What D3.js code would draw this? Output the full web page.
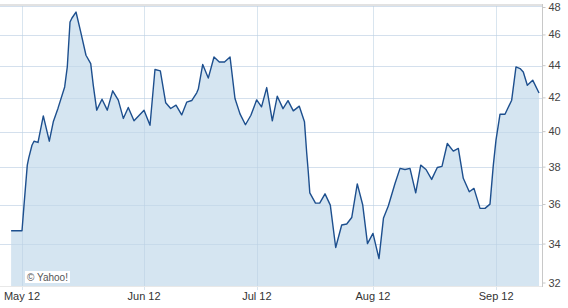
<!DOCTYPE html>
<html>
<head>
<meta charset="utf-8">
<script src="https://cdn.jsdelivr.net/npm/d3@7"></script>
<style>
  html, body { margin: 0; padding: 0; background: #fff; }
  svg { display: block; }
  text { font-family: "Liberation Sans", Arial, sans-serif; }
</style>
</head>
<body>
<svg id="chart" width="568" height="308"></svg>
<script>
// trading-day position (0 = first session shown) and closing price
const sessions = [0, 2.0, 2.37, 2.97, 3.23, 3.83, 4.2, 4.94, 5.91, 7.01, 7.74, 8.61, 9.83, 10.31, 10.81, 11.17, 11.91, 12.77, 13.74, 14.61, 15.08, 15.71, 16.68, 17.65, 18.64, 19.67, 20.59, 21.5, 22.55, 24.39, 25.49, 26.4, 27.38, 28.37, 29.28, 30.26, 31.3, 32.22, 33.14, 34.06, 34.35, 35.16, 36.18, 37.23, 38.2, 39.16, 40.17, 41.08, 42.0, 43.0, 44.0, 45.06, 45.95, 46.9, 47.93, 48.84, 49.89, 50.81, 51.78, 52.88, 53.83, 54.24, 54.53, 54.81, 55.85, 56.62, 57.6, 58.57, 59.56, 60.66, 61.58, 62.5, 63.52, 64.51, 65.39, 66.4, 67.5, 68.33, 69.21, 70.44, 71.36, 72.28, 73.19, 74.24, 75.16, 76.13, 77.17, 78.2, 79.06, 80.04, 81.14, 82.06, 82.97, 84.07, 84.93, 86.04, 86.95, 87.87, 88.48, 88.97, 89.71, 90.62, 91.85, 92.64, 93.39, 93.98, 94.72, 95.71, 96.87];
const prices = [34.66, 34.66, 35.97, 38.11, 38.50, 39.22, 39.45, 39.38, 40.92, 39.45, 40.57, 41.38, 42.67, 43.92, 46.87, 47.14, 47.55, 46.20, 44.67, 44.13, 42.77, 41.26, 41.92, 41.26, 42.43, 41.86, 40.77, 41.42, 40.63, 41.26, 40.37, 43.76, 43.67, 41.70, 41.36, 41.56, 40.98, 41.74, 41.84, 42.31, 42.54, 44.08, 43.22, 44.56, 44.24, 44.24, 44.56, 41.96, 41.04, 40.40, 40.96, 41.88, 41.46, 42.63, 40.63, 42.10, 41.35, 41.83, 41.22, 41.50, 40.57, 38.78, 37.73, 36.61, 36.07, 36.07, 36.56, 35.97, 33.83, 34.95, 35.00, 35.33, 37.09, 35.99, 34.02, 34.53, 33.29, 35.31, 35.92, 37.11, 37.93, 37.87, 37.93, 36.61, 38.11, 37.87, 37.33, 37.98, 38.04, 39.32, 38.89, 39.04, 37.39, 36.67, 36.85, 35.80, 35.80, 36.02, 38.11, 39.51, 41.02, 41.02, 41.86, 43.92, 43.82, 43.60, 42.77, 43.09, 42.30];

const monthLabels = ["May 12", "Jun 12", "Jul 12", "Aug 12", "Sep 12"];
const monthSessions = [2, 24.4, 45.1, 66.4, 89];
const yTicks = [32, 34, 36, 38, 40, 42, 44, 46, 48];

const svg = d3.select("#chart");
const x = d3.scaleLinear().domain([0, 97]).range([11.1, 539.75]);
const y = d3.scaleLog().domain([32, 48]).range([286, 5.5]);

const data = sessions.map((s, i) => ({ s, p: prices[i] }));

// horizontal grid (under fill)
svg.append("g").selectAll("line").data(yTicks).join("line")
  .attr("x1", 0).attr("x2", 542)
  .attr("y1", d => Math.round(y(d)) + 0.5).attr("y2", d => Math.round(y(d)) + 0.5)
  .attr("stroke", "#e6edf4").attr("stroke-width", 1);

// area
const area = d3.area().x(d => x(d.s)).y0(y(32)).y1(d => y(d.p));
svg.append("path").datum(data).attr("d", area).attr("fill", "#d5e5f1");

// grid over fill (faint)
svg.append("g").selectAll("line").data(yTicks).join("line")
  .attr("x1", 0).attr("x2", 542)
  .attr("y1", d => Math.round(y(d)) + 0.5).attr("y2", d => Math.round(y(d)) + 0.5)
  .attr("stroke", "#9fbcd6").attr("stroke-opacity", 0.25);
svg.append("g").selectAll("line").data(monthSessions).join("line")
  .attr("x1", d => Math.round(x(d)) + 0.5).attr("x2", d => Math.round(x(d)) + 0.5)
  .attr("y1", 6).attr("y2", 290)
  .attr("stroke", "#b9cfe2").attr("stroke-opacity", 0.55);

// line
const line = d3.line().x(d => x(d.s)).y(d => y(d.p));
svg.append("path").datum(data).attr("d", line)
  .attr("fill", "none").attr("stroke", "#1d4f8e").attr("stroke-width", 1.4)
  .attr("stroke-linejoin", "round");

// top border
svg.append("line").attr("x1", 0).attr("x2", 543).attr("y1", 5).attr("y2", 5)
  .attr("stroke", "#e2e2e2").attr("stroke-width", 2);
// bottom baseline
svg.append("line").attr("x1", 0).attr("x2", 542).attr("y1", 286.5).attr("y2", 286.5)
  .attr("stroke", "#e8e8e8");

// right axis
const yAxis = d3.axisRight(y).tickValues(yTicks).tickSize(3).tickFormat(d3.format("d"));
const gy = svg.append("g").attr("transform", "translate(542.5,0)").call(yAxis);
gy.select(".domain").attr("stroke", "#c8c8c8").attr("d", "M0,4V287");
gy.selectAll(".tick line").attr("stroke", "#c8c8c8");
gy.selectAll(".tick").attr("transform", d => `translate(0,${Math.min(283, Math.max(7.5, y(d)))})`);
gy.selectAll(".tick text").attr("x", 6).attr("fill", "#444").attr("font-size", 11)
  .attr("font-family", "Liberation Sans, Arial, sans-serif");

// bottom month labels
const gx = svg.append("g");
gx.selectAll("text").data(monthSessions).join("text")
  .attr("x", d => x(d)).attr("y", 300)
  .attr("text-anchor", "middle").attr("fill", "#333").attr("font-size", 11)
  .text((d, i) => monthLabels[i]);

// copyright box
svg.append("rect").attr("x", 25).attr("y", 271).attr("width", 45).attr("height", 12).attr("fill", "#fff");
svg.append("text").attr("x", 27).attr("y", 281).attr("font-size", 10).attr("fill", "#555").text("© Yahoo!");
</script>
</body>
</html>
